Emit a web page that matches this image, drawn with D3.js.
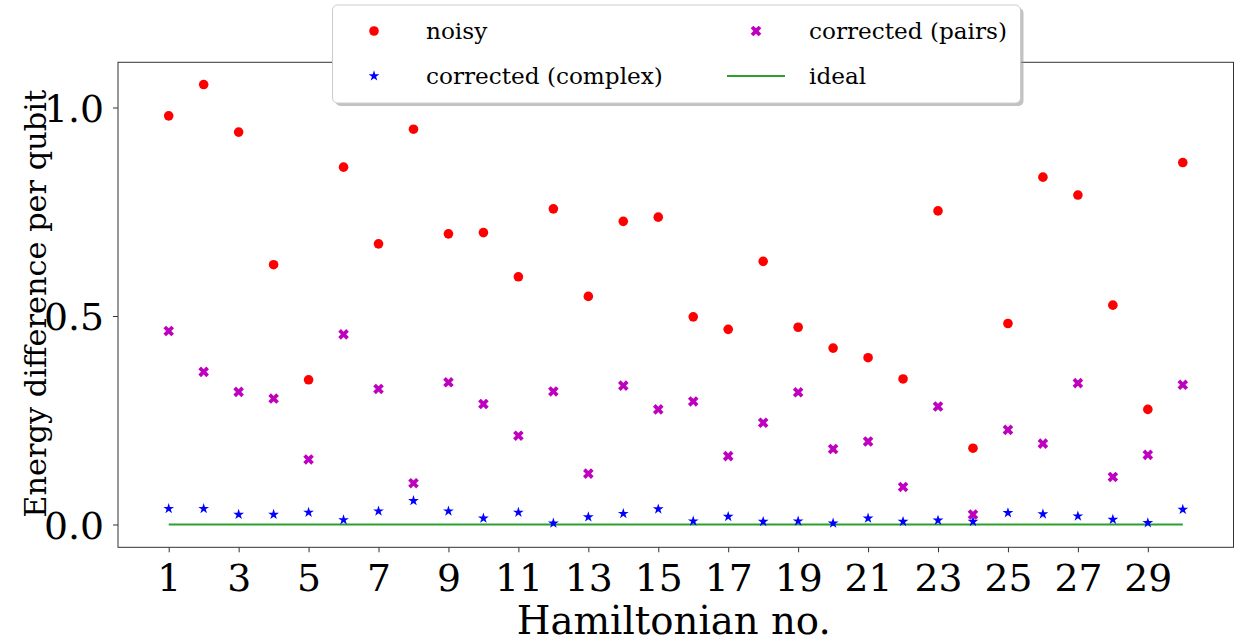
<!DOCTYPE html>
<html><head><meta charset="utf-8">
<script src="https://cdn.jsdelivr.net/npm/d3@7"></script>
<style>
html,body{margin:0;padding:0;background:#fff;}
svg text{font-family:"DejaVu Serif",serif;fill:#000;}
</style></head>
<body><svg id="chart" width="1238" height="642"></svg>
<script>
const hamiltonians = d3.range(1, 31);
const noisy = [0.980,1.055,0.941,0.623,0.347,0.857,0.673,0.948,0.697,0.700,0.594,0.757,0.547,0.727,0.737,0.498,0.468,0.631,0.473,0.423,0.400,0.349,0.752,0.183,0.482,0.833,0.790,0.526,0.276,0.868];
const pairs = [0.464,0.366,0.318,0.302,0.156,0.456,0.325,0.099,0.341,0.289,0.213,0.319,0.122,0.333,0.276,0.295,0.164,0.244,0.317,0.181,0.199,0.090,0.283,0.024,0.227,0.194,0.339,0.114,0.167,0.335];
const complex = [0.038,0.038,0.024,0.024,0.029,0.011,0.032,0.057,0.032,0.015,0.029,0.003,0.018,0.026,0.037,0.008,0.019,0.007,0.008,0.003,0.015,0.007,0.010,0.007,0.028,0.025,0.020,0.012,0.004,0.036];
const ideal = hamiltonians.map(() => 0);
const xTicks = [1,3,5,7,9,11,13,15,17,19,21,23,25,27,29];
const yTicks = [0.0, 0.5, 1.0];
const legendItems = ["noisy","corrected (pairs)","corrected (complex)","ideal"];

const FONT = "DejaVu Serif";
const svg = d3.select("#chart");
const L = 118, R = 1233.5, T = 62.3, B = 547.3;
const x = d3.scaleLinear().domain([-0.45, 31.45]).range([L, R]);
const y = d3.scaleLinear().domain([-0.0547, 1.1084]).range([B, T]);

const C_RED = "#ff0000", C_MAG = "#bf00bf", C_BLUE = "#0000ff", C_GREEN = "#2ca02c";

function fitWidth(sel, target) {
  const n = sel.node();
  const fs = parseFloat(sel.attr("font-size"));
  const w = n.getComputedTextLength();
  sel.attr("font-size", (fs * target / w).toFixed(2));
  return fs * target / w;
}

svg.append("path")
  .datum(hamiltonians.map((h,i)=>[h, ideal[i]]))
  .attr("fill","none").attr("stroke",C_GREEN).attr("stroke-width",1.8)
  .attr("d", d3.line().x(d=>x(d[0])).y(d=>y(d[1])));

const starPath = d3.symbol().type(d3.symbolStar).size(36)();
const crossPath = d3.symbol().type(d3.symbolCross).size(70)();

svg.append("g").selectAll("circle").data(noisy).join("circle")
  .attr("cx",(d,i)=>x(hamiltonians[i])).attr("cy",d=>y(d)).attr("r",4.8).attr("fill",C_RED);
svg.append("g").selectAll("path").data(complex).join("path")
  .attr("d",starPath).attr("fill",C_BLUE)
  .attr("transform",(d,i)=>`translate(${x(hamiltonians[i])},${y(d)})`);
svg.append("g").selectAll("path").data(pairs).join("path")
  .attr("d",crossPath).attr("fill",C_MAG)
  .attr("transform",(d,i)=>`translate(${x(hamiltonians[i])},${y(d)}) rotate(45)`);

const xAxis = svg.append("g").attr("transform",`translate(0,${B})`)
  .call(d3.axisBottom(x).tickValues(xTicks).tickSize(5).tickPadding(8).tickFormat(d3.format("d")));
const yAxis = svg.append("g").attr("transform",`translate(${L},0)`)
  .call(d3.axisLeft(y).tickValues(yTicks).tickSize(5).tickPadding(9).tickFormat(d3.format(".1f")));
[xAxis,yAxis].forEach(a=>{
  a.attr("font-family",FONT).attr("font-size",38);
  a.select(".domain").remove();
  a.selectAll(".tick line").attr("stroke","#333").attr("stroke-width",1);
  a.selectAll(".tick text").attr("fill","#000");
});
const tickFs = fitWidth(yAxis.select(".tick:last-of-type text").attr("font-size",38), 60);
xAxis.attr("font-size",tickFs); yAxis.attr("font-size",tickFs);
xAxis.selectAll(".tick text").attr("font-size",null).attr("dy","0.82em");
yAxis.selectAll(".tick text").attr("font-size",null).attr("dy","0.36em");

svg.append("rect").attr("x",L).attr("y",T).attr("width",R-L).attr("height",B-T)
  .attr("fill","none").attr("stroke","#333").attr("stroke-width",1);

const xl = svg.append("text").attr("x",(L+R)/2 - 2).attr("y",634).attr("text-anchor","middle")
  .attr("font-size",40).text("Hamiltonian no.");
fitWidth(xl, 314);
const yl = svg.append("text").attr("transform",`translate(46,${(T+B)/2 - 1}) rotate(-90)`).attr("text-anchor","middle")
  .attr("font-size",40).text("Energy difference per qubit");
fitWidth(yl, 428);

const lg = svg.append("g");
const lx = 332.5, ly = 5, lw = 688, lh = 98;
lg.append("rect").attr("x",lx+3).attr("y",ly+3).attr("width",lw).attr("height",lh).attr("rx",5)
  .attr("fill","#999").attr("opacity",0.6);
lg.append("rect").attr("x",lx).attr("y",ly).attr("width",lw).attr("height",lh).attr("rx",5)
  .attr("fill","#fff").attr("stroke","#ccc").attr("stroke-width",1);
const colX = [374, 756], textX = [426, 809], rowY = [31, 76];
legendItems.forEach((name,i)=>{
  const c = i%2, r = Math.floor(i/2);
  const mx = colX[c], my = rowY[r];
  if (name==="noisy") lg.append("circle").attr("cx",mx).attr("cy",my).attr("r",4.8).attr("fill",C_RED);
  else if (name==="corrected (pairs)") lg.append("path").attr("d",crossPath).attr("fill",C_MAG).attr("transform",`translate(${mx},${my}) rotate(45)`);
  else if (name==="corrected (complex)") lg.append("path").attr("d",starPath).attr("fill",C_BLUE).attr("transform",`translate(${mx},${my})`);
  else lg.append("line").attr("x1",mx-29).attr("x2",mx+29).attr("y1",my).attr("y2",my).attr("stroke",C_GREEN).attr("stroke-width",1.8);
  lg.append("text").attr("class","legtext").attr("x",textX[c]).attr("y",my).attr("dy","0.35em")
    .attr("font-size",26).text(name);
});
const cc = lg.selectAll(".legtext").nodes().find(n=>n.textContent==="corrected (complex)");
const fs2 = fitWidth(d3.select(cc), 237);
lg.selectAll(".legtext").attr("font-size",fs2);
</script></body></html>
